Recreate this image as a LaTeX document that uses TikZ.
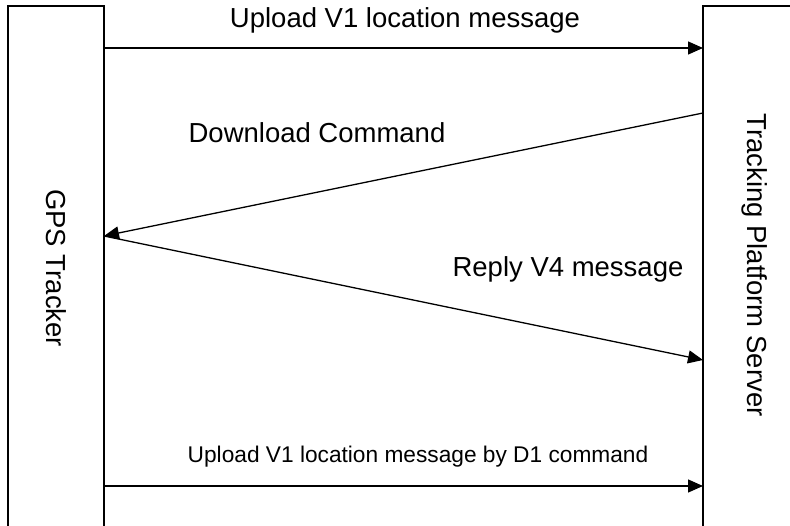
\documentclass[tikz,border=0pt]{standalone}
\usepackage{fontspec}
\setmainfont{Liberation Sans}
\usetikzlibrary{arrows.meta}
\tikzset{
  box/.style={draw, line width=1.3pt, rectangle, inner sep=0pt},
  arr/.style={line width=1.3pt, -{Triangle[length=15pt,width=13pt]}},
  lbl/.style={inner sep=0pt, font=\fontsize{27.5}{33}\selectfont},
  slbl/.style={inner sep=0pt, font=\fontsize{22.7}{27}\selectfont},
}
\begin{document}
\begin{tikzpicture}[x=1pt,y=-1pt]
\path[use as bounding box, clip] (0,0) rectangle (790,526);
\fill[white] (0,0) rectangle (790,526);
% boxes
\node[box, minimum width=96pt, minimum height=560pt] (gps) at (56,286) {};
\node[box, minimum width=120pt, minimum height=560pt] (srv) at (763,286) {};
\node[lbl, rotate=-90] (gpst) at (56,268) {GPS Tracker};
\node[lbl, rotate=-90] (srvt) at (755,265) {Tracking Platform Server};
% anchor points
\coordinate (g1) at (104,48);
\coordinate (s1) at (703,48);
\coordinate (s2) at (703,113);
\coordinate (g2) at (104,236);
\coordinate (s3) at (703,360);
\coordinate (g3) at (104,486);
\coordinate (s4) at (703,486);
% arrows
\draw[arr] (g1) -- (s1);
\draw[arr] (s2) -- (g2);
\draw[arr] (g2) -- (s3);
\draw[arr] (g3) -- (s4);
% labels
\node[lbl, anchor=base] (l1) at (405,28) {Upload V1 location message};
\node[lbl, anchor=base] (l2) at (317,143) {Download Command};
\node[lbl, anchor=base] (l3) at (568,277) {Reply V4 message};
\node[slbl, anchor=base] (l4) at (418,463) {Upload V1 location message by D1 command};
\end{tikzpicture}
\end{document}
